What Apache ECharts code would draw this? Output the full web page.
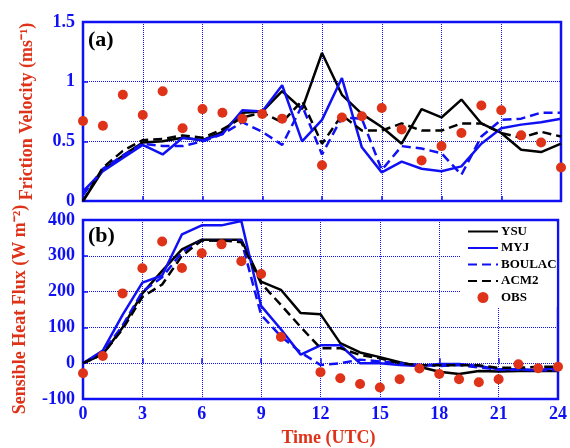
<!DOCTYPE html>
<html>
<head>
<meta charset="utf-8">
<script src="https://cdn.jsdelivr.net/npm/echarts/dist/echarts.min.js"></script>
<style>
  html, body { margin: 0; padding: 0; background: #fff; }
  #chart { width: 570px; height: 448px; }
</style>
</head>
<body>
<div id="chart"></div>
<script>
// hours (UTC)
var hours = [0, 1, 2, 3, 4, 5, 6, 7, 8, 9, 10, 11, 12, 13, 14, 15, 16, 17, 18, 19, 20, 21, 22, 23, 24];
var xTicks = [0, 3, 6, 9, 12, 15, 18, 21, 24];

// (a) friction velocity, m/s
var ysuA    = [0, 0.26, 0.38, 0.49, 0.50, 0.53, 0.51, 0.58, 0.74, 0.75, 0.92, 0.77, 1.24, 0.89, 0.73, 0.62, 0.48, 0.77, 0.70, 0.85, 0.65, 0.57, 0.43, 0.41, 0.48];
var myjA    = [0.08, 0.25, 0.36, 0.47, 0.39, 0.53, 0.51, 0.56, 0.76, 0.75, 0.97, 0.50, 0.68, 1.03, 0.45, 0.24, 0.33, 0.27, 0.25, 0.29, 0.48, 0.61, 0.64, 0.66, 0.69];
var boulacA = [0.05, 0.27, 0.38, 0.48, 0.46, 0.46, 0.50, 0.56, 0.66, 0.58, 0.47, 0.80, 0.39, 0.70, 0.69, 0.26, 0.46, 0.44, 0.40, 0.22, 0.54, 0.68, 0.69, 0.74, 0.74];
var acm2A   = [0, 0.28, 0.42, 0.51, 0.52, 0.55, 0.53, 0.60, 0.70, 0.74, 0.66, 0.84, 0.48, 0.72, 0.59, 0.59, 0.65, 0.59, 0.59, 0.65, 0.65, 0.57, 0.53, 0.58, 0.54];
var obsA    = [0.67, 0.63, 0.89, 0.72, 0.92, 0.61, 0.77, 0.74, 0.69, 0.73, 0.69, null, 0.30, 0.70, 0.71, 0.78, 0.60, 0.34, 0.46, 0.57, 0.80, 0.76, 0.55, 0.49, 0.28];

// (b) sensible heat flux, W/m2
var ysuB    = [0, 25, 100, 195, 258, 318, 345, 345, 345, 228, 205, 140, 137, 56, 30, 17, 3, -10, -24, -30, -22, -23, -22, -22, -22];
var myjB    = [0, 35, 135, 225, 245, 360, 385, 385, 397, 160, 95, 24, 50, 50, 0, 0, -5, -8, -2, -2, -8, -17, -17, -20, -12];
var boulacB = [0, 30, 105, 200, 240, 310, 343, 343, 343, 135, 75, 30, -5, 0, 10, 5, 0, -5, -8, -5, -12, -18, -18, -20, -20];
var acm2B   = [0, 25, 95, 185, 220, 300, 343, 343, 338, 223, 163, 101, 42, 42, 23, 14, 0, -5, -6, -6, -6, -13, -13, -10, -10];
var obsB    = [-28, 20, 195, 265, 340, 266, 307, 332, 285, 249, 73, null, -25, -42, -58, -68, -45, -15, -30, -45, -53, -45, -3, -14, -10];

var BLUE = '#1010f5';
var RED = '#de3219';
var FONT = 'Liberation Serif';

function pairs(vals) {
    var out = [];
    for (var i = 0; i < hours.length; i++) {
        if (vals[i] !== null) out.push([hours[i], vals[i]]);
    }
    return out;
}

function lineSeries(name, vals, idx, color, dashed) {
    return {
        name: name,
        type: 'line',
        xAxisIndex: idx,
        yAxisIndex: idx,
        data: pairs(vals),
        symbol: 'none',
        lineStyle: { color: color, width: 2.5, type: dashed ? [9, 5] : 'solid' },
        itemStyle: { color: color }
    };
}

function obsSeries(vals, idx) {
    return {
        name: 'OBS',
        type: 'scatter',
        xAxisIndex: idx,
        yAxisIndex: idx,
        data: pairs(vals),
        symbol: 'circle',
        symbolSize: 10,
        itemStyle: { color: RED, opacity: 1 },
        z: 5
    };
}

function xAxisCfg(idx, showLabels) {
    return {
        type: 'value',
        gridIndex: idx,
        min: 0, max: 24, interval: 3,
        axisLine: { show: false },
        axisTick: { show: true, inside: true, length: 5, lineStyle: { color: BLUE, width: 1.5 } },
        axisLabel: { show: showLabels, color: BLUE, fontFamily: FONT, fontWeight: 'bold', fontSize: 18, margin: 6 },
        splitLine: { show: true, lineStyle: { color: BLUE, type: 'dotted', width: 1 } },
        name: showLabels ? 'Time (UTC)' : '',
        nameLocation: 'middle',
        nameGap: 30,
        nameTextStyle: { color: RED, fontFamily: FONT, fontWeight: 'bold', fontSize: 18, padding: [0, 0, 0, 16] }
    };
}

function yAxisCfg(idx, min, max, interval, name, gap) {
    return {
        type: 'value',
        gridIndex: idx,
        min: min, max: max, interval: interval,
        axisLine: { show: false },
        axisTick: { show: true, inside: true, length: 5, lineStyle: { color: BLUE, width: 1.5 } },
        axisLabel: { color: BLUE, fontFamily: FONT, fontWeight: 'bold', fontSize: 18, margin: 8 },
        splitLine: { show: true, lineStyle: { color: BLUE, type: 'dotted', width: 1 } },
        name: name,
        nameLocation: 'middle',
        nameRotate: 90,
        nameGap: gap,
        nameMoveOverlap: false,
        nameTextStyle: { color: RED, fontFamily: FONT, fontWeight: 'bold', fontSize: 18 }
    };
}

var chart = echarts.init(document.getElementById('chart'), null, { renderer: 'canvas' });

// legend: lines without a marker, OBS as a dot
var legendData = [];
var names = ['YSU', 'MYJ', 'BOULAC', 'ACM2'];
for (var i = 0; i < names.length; i++) {
    legendData.push({ name: names[i], itemStyle: { opacity: 0 } });
}
legendData.push({ name: 'OBS' });

var option = {
    backgroundColor: '#fff',
    animation: false,
    grid: [
        { left: 83, right: 9, top: 22, height: 179, show: true, borderColor: BLUE, borderWidth: 2.5, backgroundColor: 'transparent' },
        { left: 83, right: 9, top: 220, height: 179, show: true, borderColor: BLUE, borderWidth: 2.5, backgroundColor: 'transparent' }
    ],
    xAxis: [xAxisCfg(0, false), xAxisCfg(1, true)],
    yAxis: [
        yAxisCfg(0, 0, 1.5, 0.5, 'Friction Velocity (ms\u207B\u00B9)', 47),
        yAxisCfg(1, -100, 400, 100, 'Sensible Heat Flux (W m\u207B\u00B2)', 54)
    ],
    legend: {
        orient: 'vertical',
        left: 461,
        top: 222,
        backgroundColor: '#fff',
        padding: [3, 0, 3, 6],
        itemGap: 3.5,
        itemWidth: 30,
        itemHeight: 11,
        textStyle: { color: '#000', fontFamily: FONT, fontWeight: 'bold', fontSize: 13, padding: [0, 0, 0, -2] },
        data: legendData
    },
    graphic: [
        { type: 'text', left: 88, top: 29, style: { text: '(a)', fill: '#000', font: 'bold 22px "Liberation Serif"' } },
        { type: 'text', left: 88, top: 225, style: { text: '(b)', fill: '#000', font: 'bold 22px "Liberation Serif"' } }
    ],
    series: [
        lineSeries('YSU', ysuA, 0, '#000', false),
        lineSeries('MYJ', myjA, 0, BLUE, false),
        lineSeries('BOULAC', boulacA, 0, BLUE, true),
        lineSeries('ACM2', acm2A, 0, '#000', true),
        obsSeries(obsA, 0),
        lineSeries('YSU', ysuB, 1, '#000', false),
        lineSeries('MYJ', myjB, 1, BLUE, false),
        lineSeries('BOULAC', boulacB, 1, BLUE, true),
        lineSeries('ACM2', acm2B, 1, '#000', true),
        obsSeries(obsB, 1)
    ]
};
chart.setOption(option);
</script>
</body>
</html>
